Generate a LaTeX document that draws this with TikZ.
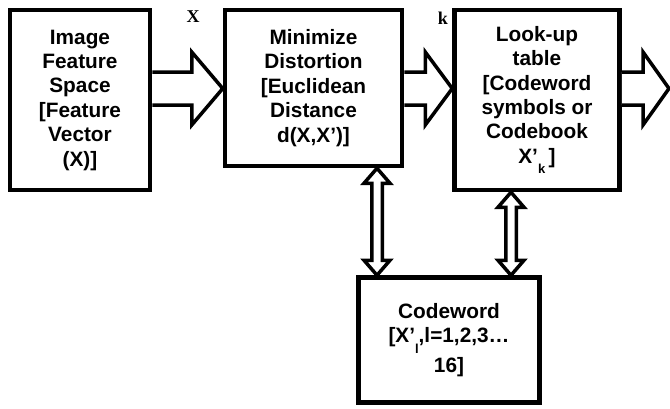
\documentclass[tikz,border=0pt]{standalone}
\usepackage{fontspec}
\setmainfont{Liberation Sans}
\newfontfamily\labelserif{Liberation Serif}
\usetikzlibrary{calc}
% small lowered index used inside the box texts
\newcommand\lowidx[1]{\raisebox{-0.5em}{\fontsize{13}{13}\selectfont #1}}
\begin{document}
\begin{tikzpicture}[x=1pt,y=-1pt,
  box/.style={draw, line width=4.5pt, inner sep=0pt, align=center,
    font=\fontsize{20.8}{24.4}\selectfont\bfseries},
  lbl/.style={inner sep=0pt, font=\labelserif\bfseries\fontsize{18}{18}\selectfont},
  % hollow block arrow pointing right; the value is the head length
  harrow/.style={line width=3.5pt, line join=miter, fill=white,
    to path={let \p1=(\tikztostart), \p2=(\tikztotarget) in
      (\x1,\y1+16.5pt) -- (\x2-#1,\y1+16.5pt) -- (\x2-#1,\y1+36.5pt) -- (\x2,\y1)
      -- (\x2-#1,\y1-36.5pt) -- (\x2-#1,\y1-16.5pt) -- (\x1,\y1-16.5pt)}},
  % hollow double-headed vertical arrow
  varrow/.style={line width=3.5pt, line join=miter, fill=white,
    to path={let \p1=(\tikztostart), \p2=(\tikztotarget) in
      (\x1,\y1) -- (\x1+13pt,\y1-15pt) -- (\x1+5.25pt,\y1-15pt) -- (\x1+5.25pt,\y2+15pt)
      -- (\x1+13pt,\y2+15pt) -- (\x1,\y2) -- (\x1-13pt,\y2+15pt) -- (\x1-5.25pt,\y2+15pt)
      -- (\x1-5.25pt,\y1-15pt) -- (\x1-13pt,\y1-15pt) -- cycle}}]

\useasboundingbox (0,0) rectangle (670,408);

% processing blocks
\node[box, minimum width=140pt, minimum height=180pt] (feat) at (80,100)
  {Image\\Feature\\Space\\{[}Feature\\Vector\\(X)]};
\node[box, minimum width=177pt, minimum height=156pt] (dist) at (313.5,88)
  {Minimize\\Distortion\\{[}Euclidean\\Distance\\d(X,X’)]};
\node[box, minimum width=165pt, minimum height=180pt] (table) at (537,100)
  {Look-up\\table\\{[}Codeword\\symbols or\\Codebook\\X’\lowidx{k}\,]};
\node[box, minimum width=181pt, minimum height=125pt] (code) at (449,340)
  {Codeword\\{[}X’\lowidx{l},l=1,2,3…\\[3pt]16]};

% signal labels
\node[lbl] (lblx) at (193,17) {X};
\node[lbl] (lblk) at (443,18) {k};

% helper coordinates for the arrow rows and columns
\coordinate (row) at (0,88.5);
\coordinate (colL) at (377,0);
\coordinate (colR) at (511,0);
\coordinate (out) at (669,88.5);

% forward flow
\draw[harrow=31pt] (feat.east |- row) to (dist.west |- row);
\draw[harrow=27pt] (dist.east |- row) to (table.west |- row);
\draw[harrow=26pt] (table.east |- row) to (out);

% exchanges with the codeword store
\draw[varrow] (dist.south -| colL) to (code.north -| colL);
\draw[varrow] (table.south -| colR) to (code.north -| colR);
\end{tikzpicture}
\end{document}
